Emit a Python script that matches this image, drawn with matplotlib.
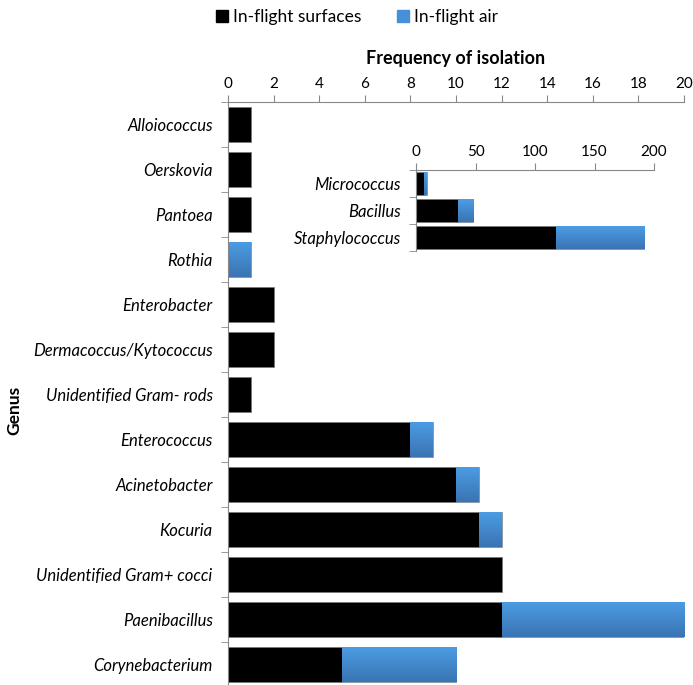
import matplotlib.pyplot as plt
import numpy as np
from matplotlib.patches import Patch
from matplotlib.colors import LinearSegmentedColormap

plt.rcParams['font.family'] = ['Lato', 'DejaVu Sans']

# genera, top to bottom
genera = ["Alloiococcus", "Oerskovia", "Pantoea", "Rothia", "Enterobacter",
          "Dermacoccus/Kytococcus", "Unidentified Gram- rods", "Enterococcus",
          "Acinetobacter", "Kocuria", "Unidentified Gram+ cocci",
          "Paenibacillus", "Corynebacterium"]
surfaces = [1, 1, 1, 0, 2, 2, 1, 8, 10, 11, 12, 12, 5]
air = [0, 0, 0, 1, 0, 0, 0, 1, 1, 1, 0, 8, 5]

# the three frequent genera shown on their own scale
big_genera = ["Micrococcus", "Bacillus", "Staphylococcus"]
big_surfaces = [7, 35, 118]
big_air = [2, 13, 74]

black = "#000000"
blue = "#4590D8"
blue_grad = LinearSegmentedColormap.from_list("bl", ["#4C9DE5", "#3A74B2"])

fig = plt.figure(figsize=(6.93, 6.85), dpi=100)
W, H = 693, 685


def style_axes(ax, labels, fs):
    n = len(labels)
    ax.set_ylim(n - 0.5, -0.5)
    ax.set_yticks(range(n))
    ax.set_yticklabels(labels, fontstyle="italic", fontsize=fs)
    ax.set_yticks(np.arange(-0.5, n, 1), minor=True)
    ax.tick_params(axis="y", which="major", length=0, pad=11)
    ax.tick_params(axis="y", which="minor", length=5, color="#888888")
    ax.xaxis.tick_top()
    ax.tick_params(axis="x", length=5, color="#888888", labelsize=11, pad=3)
    for s in ["right", "bottom"]:
        ax.spines[s].set_visible(False)
    for s in ["left", "top"]:
        ax.spines[s].set_color("#888888")
        ax.spines[s].set_linewidth(0.8)


def shade(ax, bars):
    # vertical gradient inside each blue bar
    grad = np.linspace(0, 1, 64).reshape(-1, 1)
    for b in bars:
        if b.get_width() <= 0:
            continue
        x0, y0 = b.get_x(), b.get_y()
        im = ax.imshow(grad, cmap=blue_grad, aspect="auto", origin="upper",
                       extent=[x0, x0 + b.get_width(), y0 + b.get_height(), y0],
                       zorder=b.get_zorder() + 0.1)
        im.set_clip_path(b)


def draw(ax, labels, s_vals, a_vals, h):
    y = np.arange(len(labels))
    ax.barh(y, s_vals, height=h, color=black, edgecolor="#777777", linewidth=0.4)
    bars = ax.barh(y, a_vals, left=s_vals, height=h, color=blue,
                   edgecolor="#777777", linewidth=0.4)
    shade(ax, bars)


# main chart
ax = fig.add_axes([228 / W, 1 - 687 / H, 456 / W, 585 / H])
draw(ax, genera, surfaces, air, 0.78)
ax.set_xlim(0, 20)
ax.set_xticks(range(0, 21, 2))
style_axes(ax, genera, 12)
ax.set_xlabel("Frequency of isolation", fontweight="bold", fontsize=13, labelpad=9)
ax.xaxis.set_label_position("top")
ax.set_ylabel("Genus", fontweight="bold", fontsize=12.5)
ax.yaxis.set_label_coords(-(228 - 22) / 456, (687 - 410) / 585)

# inset for the large counts
ins = fig.add_axes([416 / W, 1 - 251 / H, 238 / W, 81 / H])
draw(ins, big_genera, big_surfaces, big_air, 0.85)
ins.set_xlim(0, 200)
ins.set_xticks(range(0, 201, 50))
style_axes(ins, big_genera, 12)
ins.patch.set_alpha(0)

handles = [Patch(color=black, label="In-flight surfaces"),
           Patch(color=blue, label="In-flight air")]
fig.legend(handles=handles, loc="center", bbox_to_anchor=(357 / W, 1 - 17 / H),
           ncol=2, frameon=False, fontsize=12.5, handlelength=0.7, handleheight=0.7,
           handletextpad=0.3, columnspacing=2.0)

fig.savefig("out.png", dpi=100)
